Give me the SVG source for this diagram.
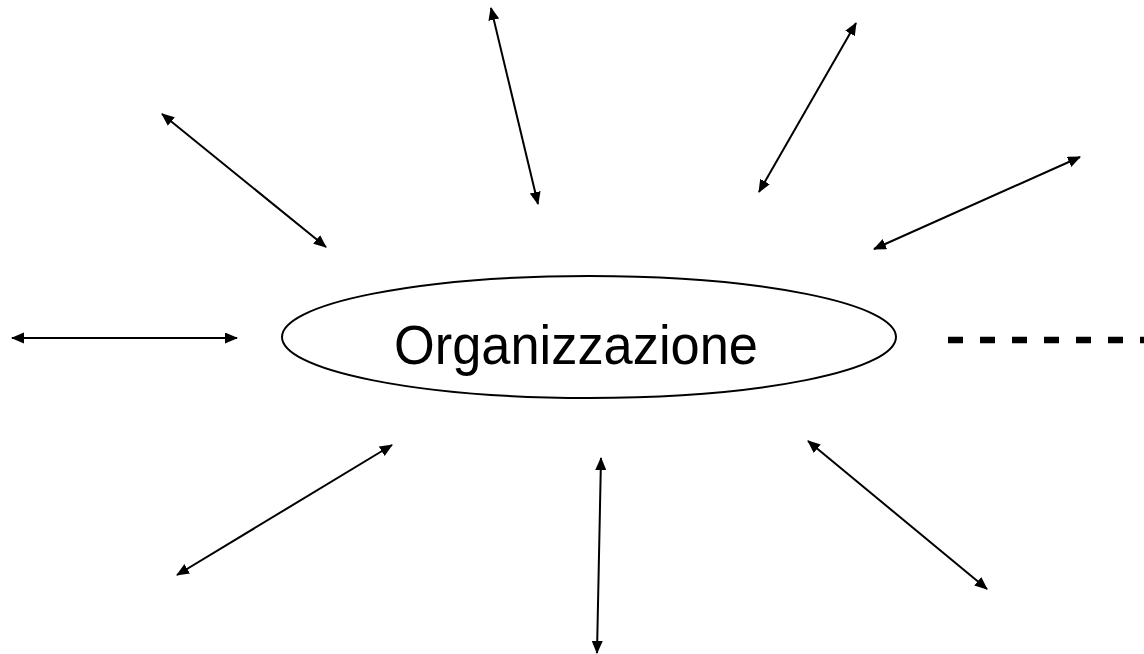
<svg xmlns="http://www.w3.org/2000/svg" width="1144" height="654" viewBox="0 0 1144 654">
<style>
.c{stroke:#000;stroke-width:2;fill:none;marker-start:url(#ah);marker-end:url(#ah)}
.d{stroke:#000;stroke-width:6.5;fill:none;stroke-dasharray:15 17}
.lbl{font-family:"Liberation Sans",Arial,sans-serif;font-size:55px;fill:#000}
</style>
<defs>
<marker id="ah" markerUnits="userSpaceOnUse" markerWidth="14" markerHeight="12" refX="12" refY="5.5" orient="auto-start-reverse" viewBox="0 0 14 12">
<path d="M0,0 L13,5.5 L0,11 Z" fill="#000"/>
</marker>
</defs>
<rect width="1144" height="654" fill="#fff"/>
<g id="organizzazione">
<ellipse cx="589" cy="337" rx="307" ry="61" fill="#fff" stroke="#000" stroke-width="2"/>
<text class="lbl" x="394" y="364" textLength="364" lengthAdjust="spacingAndGlyphs">Organizzazione</text>
</g>
<g id="connectors">
<line class="c" x1="12" y1="338" x2="237" y2="338"/>
<line class="c" x1="162" y1="114" x2="326" y2="247"/>
<line class="c" x1="491" y1="8" x2="538" y2="204"/>
<line class="c" x1="856" y1="23" x2="759" y2="192"/>
<line class="c" x1="1080" y1="157" x2="874" y2="249"/>
<line class="c" x1="392" y1="445" x2="177" y2="575"/>
<line class="c" x1="601" y1="458" x2="597" y2="653"/>
<line class="c" x1="808" y1="441" x2="987" y2="589"/>
<line class="d" x1="948" y1="340" x2="1144" y2="340"/>
</g>
</svg>
